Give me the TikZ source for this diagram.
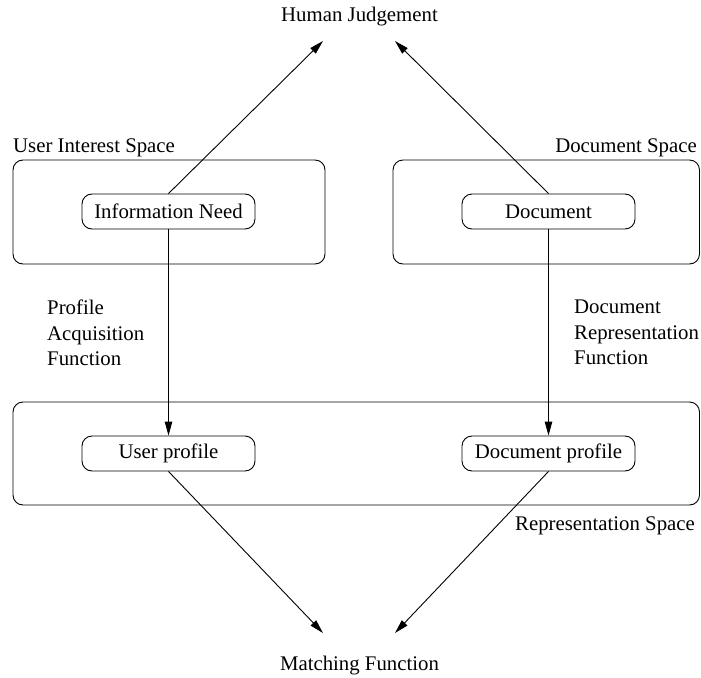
\documentclass[tikz,border=0pt]{standalone}
\usepackage{fontspec}
\setmainfont{Liberation Serif}
\usetikzlibrary{arrows.meta}
\newcommand{\fsz}{\fontsize{20.8pt}{25.5pt}\selectfont}
\tikzset{
  spacebox/.style={draw, rounded corners=10pt, line width=0.9pt},
  itembox/.style={draw, rounded corners=10pt, line width=0.9pt, minimum width=173pt, minimum height=35pt, inner sep=0pt, font=\fsz},
  lbl/.style={inner sep=0pt, font=\fsz},
  flow/.style={line width=0.9pt, -{Triangle[length=14pt,width=7.5pt]}}
}
\begin{document}
\begin{tikzpicture}[x=1pt, y=-1pt]
            \useasboundingbox (0,0) rectangle (701,677);
            % spaces
            \draw[spacebox] (13,160) rectangle (325,264);
            \draw[spacebox] (393,160) rectangle (699.5,264);
            \draw[spacebox] (13,402) rectangle (699.5,505);
            \node[lbl, anchor=base west] (uis) at (13,152) {User Interest Space};
            \node[lbl, anchor=base east] (ds) at (697,152) {Document Space};
            \node[lbl, anchor=base west] (rs) at (515,530) {Representation Space};
            % items
            \node[itembox] (need) at (168.5,211.5) {Information Need};
            \node[itembox] (doc) at (548.5,211.5) {Document};
            \node[itembox] (uprof) at (168.5,453.5) {User profile};
            \node[itembox] (dprof) at (548.5,453.5) {Document profile};
            \node[lbl, anchor=base] (judge) at (359.5,22) {Human Judgement};
            \node[lbl, anchor=base] (match) at (359.5,670) {Matching Function};
            \node[lbl, anchor=north west, align=left] (paf) at (47,300) {Profile\\Acquisition\\Function};
            \node[lbl, anchor=north west, align=left] (drf) at (574,300) {Document\\Representation\\Function};
            \coordinate (judgeL) at (323,41);
            \coordinate (judgeR) at (395,41);
            \coordinate (matchL) at (323,633);
            \coordinate (matchR) at (395,633);
            % arrows
            \draw[flow] (need.north) -- (judgeL);
            \draw[flow] (doc.north) -- (judgeR);
            \draw[flow] (need.south) -- (uprof.north);
            \draw[flow] (doc.south) -- (dprof.north);
            \draw[flow] (uprof.south) -- (matchL);
            \draw[flow] (dprof.south) -- (matchR);
\end{tikzpicture}
\end{document}
